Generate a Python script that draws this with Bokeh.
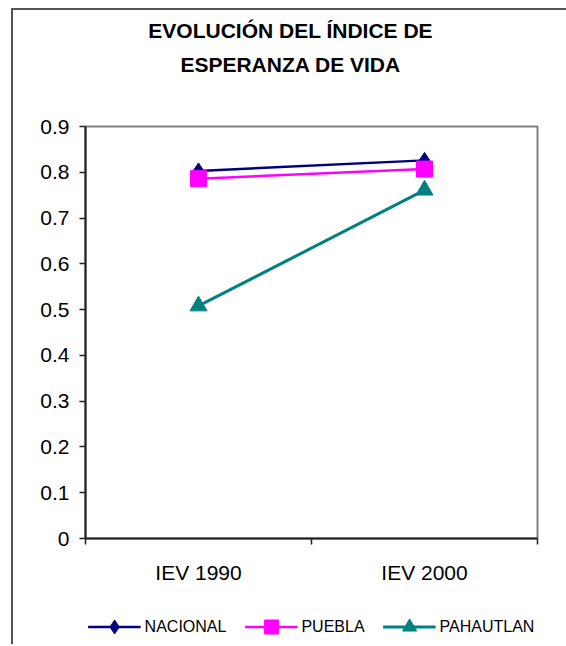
from bokeh.plotting import figure
from bokeh.layouts import column
from bokeh.models import Range1d, FixedTicker, NumeralTickFormatter, Legend, LegendItem, Label
from bokeh.embed import file_html
from bokeh.resources import INLINE

title_lines = ["EVOLUCIÓN DEL ÍNDICE DE", "ESPERANZA DE VIDA"]
categories = ["IEV 1990", "IEV 2000"]
series_names = ["NACIONAL", "PUEBLA", "PAHAUTLAN"]
nacional = [0.803, 0.826]
puebla = [0.786, 0.807]
pahautlan = [0.508, 0.761]
y_ticks = [0, 0.1, 0.2, 0.3, 0.4, 0.5, 0.6, 0.7, 0.8, 0.9]

FONT = "Liberation Sans"
colors = ["#000080", "#FF00FF", "#008080"]
markers = ["diamond", "square", "triangle"]
marker_sizes = [16, 16, 17]
line_widths = [2.5, 2.5, 3]
series = [nacional, puebla, pahautlan]
xs = [i + 0.5 for i in range(len(categories))]

W = 553

# ---------------- title strip ----------------
tfig = figure(width=W, height=100, output_backend="svg", toolbar_location=None,
              x_range=Range1d(0, W), y_range=Range1d(0, 100),
              x_axis_type=None, y_axis_type=None, min_border=0)
tfig.outline_line_color = None
tfig.background_fill_color = "white"
tfig.border_fill_color = "white"
for txt, ty in zip(title_lines, [80, 46]):
    tfig.add_layout(Label(x=251, y=ty, text=txt, text_align="center", text_baseline="middle",
                          text_font=FONT, text_font_style="bold", text_font_size="21px",
                          text_color="black"))

# ---------------- main chart ----------------
p = figure(frame_width=452, frame_height=412, output_backend="svg", toolbar_location=None,
           x_range=Range1d(0, len(categories)), y_range=Range1d(0, y_ticks[-1]),
           min_border_left=72, min_border_right=W - 72 - 452, min_border_top=16,
           min_border_bottom=50)
p.background_fill_color = "white"
p.border_fill_color = "white"
p.outline_line_color = "#808080"
p.outline_line_width = 2
p.xgrid.visible = False
p.ygrid.visible = False

p.yaxis.ticker = FixedTicker(ticks=y_ticks)
p.yaxis.formatter = NumeralTickFormatter(format="0.[0]")
p.yaxis.minor_tick_line_color = None
p.yaxis.major_tick_in = 0
p.yaxis.major_tick_out = 6
p.yaxis.major_label_standoff = 10
p.yaxis.axis_line_color = "#222222"
p.yaxis.axis_line_width = 2
p.yaxis.major_tick_line_color = "#222222"
p.yaxis.major_tick_line_width = 1.5
p.yaxis.major_label_text_font = FONT
p.yaxis.major_label_text_font_size = "21px"
p.yaxis.major_label_text_color = "black"

p.xaxis.ticker = FixedTicker(ticks=xs, minor_ticks=list(range(len(categories) + 1)))
p.xaxis.major_label_overrides = {x: c for x, c in zip(xs, categories)}
p.xaxis.major_tick_line_color = None
p.xaxis.minor_tick_in = 0
p.xaxis.minor_tick_out = 6
p.xaxis.minor_tick_line_color = "#222222"
p.xaxis.minor_tick_line_width = 1.5
p.xaxis.axis_line_color = "#222222"
p.xaxis.axis_line_width = 2
p.xaxis.major_label_standoff = 16
p.xaxis.major_label_text_font = FONT
p.xaxis.major_label_text_font_size = "21px"
p.xaxis.major_label_text_color = "black"

for ys, c, m, ms, lw in zip(series, colors, markers, marker_sizes, line_widths):
    p.line(xs, ys, line_color=c, line_width=lw)
    p.scatter(xs, ys, marker=m, size=ms, fill_color=c, line_color=c)

# ---------------- legend strip ----------------
lfig = figure(width=W, height=56, output_backend="svg", toolbar_location=None,
              x_range=Range1d(10, 11), y_range=Range1d(10, 11),
              x_axis_type=None, y_axis_type=None,
              min_border_left=72, min_border_right=W - 72 - 452, min_border_top=0,
              min_border_bottom=0)
lfig.outline_line_color = None
lfig.background_fill_color = "white"
lfig.border_fill_color = "white"
items = []
for name, ys, c, m, ms, lw in zip(series_names, series, colors, markers, marker_sizes, line_widths):
    lr = lfig.line(xs, ys, line_color=c, line_width=lw)
    sr = lfig.scatter(xs, ys, marker=m, size=ms, fill_color=c, line_color=c)
    items.append(LegendItem(label=name, renderers=[lr, sr]))
legend = Legend(items=items, location="bottom_center", orientation="horizontal",
                border_line_color=None, background_fill_alpha=0,
                glyph_width=53, glyph_height=35, label_standoff=4, spacing=18,
                padding=0, margin=0, label_text_font=FONT,
                label_text_font_size="16px", label_text_color="black")
lfig.add_layout(legend)

layout = column(tfig, p, lfig, spacing=0)
layout.margin = (8, 0, 0, 11)
layout.styles = {"border-left": "2px solid #555555", "border-top": "2px solid #555555"}

open("out.html", "w").write(file_html(layout, INLINE))
